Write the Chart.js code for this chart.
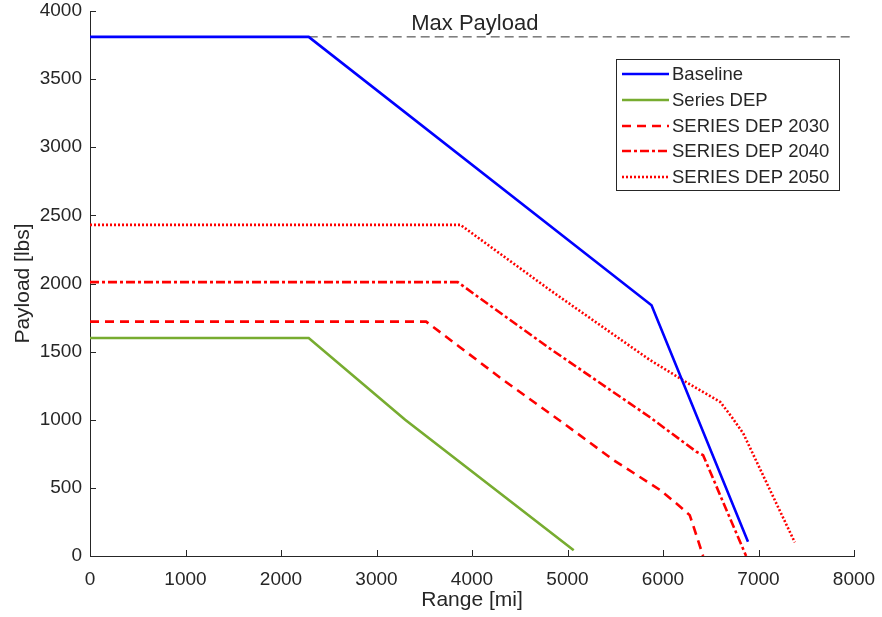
<!DOCTYPE html>
<html>
<head>
<meta charset="utf-8">
<script src="https://cdn.jsdelivr.net/npm/chart.js@4.4.0/dist/chart.umd.min.js"></script>
<style>
  html, body { margin: 0; padding: 0; background: #fff; }
  #wrap { width: 882px; height: 617px; }
</style>
</head>
<body>
<div id="wrap"><canvas id="c" width="882" height="617"></canvas></div>
<script>
// payload-range data
const seriesNames = ['Baseline', 'Series DEP', 'SERIES DEP 2030', 'SERIES DEP 2040', 'SERIES DEP 2050'];

const baselineX = [0, 2290, 5880, 6890];
const baselineY = [3810, 3810, 1840, 105];

const seriesDepX = [0, 2290, 3300, 5065];
const seriesDepY = [1600, 1600, 1000, 42];

const dep2030X = [0, 3520, 3860, 4330, 4990, 5480, 5970, 6180, 6280, 6320, 6420];
const dep2030Y = [1720, 1720, 1540, 1290, 958, 705, 484, 362, 300, 215, 0];

const dep2040X = [0, 3850, 4800, 5860, 6350, 6420, 6870];
const dep2040Y = [2010, 2010, 1530, 1020, 765, 740, 0];

const dep2050X = [0, 3880, 4820, 5860, 6210, 6600, 6720, 6840, 7380];
const dep2050Y = [2430, 2430, 1950, 1440, 1290, 1130, 1020, 900, 100];

const maxPayloadX = [2290, 8000];
const maxPayloadY = [3810, 3810];

const xTicks = [0, 1000, 2000, 3000, 4000, 5000, 6000, 7000, 8000];
const yTicks = [0, 500, 1000, 1500, 2000, 2500, 3000, 3500, 4000];

const textColor = '#262626';
const fontFamily = '"Liberation Sans", Arial, Helvetica, sans-serif';

function pts(xs, ys) {
  return xs.map((x, i) => ({ x: x, y: ys[i] }));
}

const lineStyles = [
  { color: '#0000ff', dash: [] },
  { color: '#77ac30', dash: [] },
  { color: '#ff0000', dash: [9, 6] },
  { color: '#ff0000', dash: [9, 3, 3, 3] },
  { color: '#ff0000', dash: [2, 2] },
];

const seriesData = [
  pts(baselineX, baselineY),
  pts(seriesDepX, seriesDepY),
  pts(dep2030X, dep2030Y),
  pts(dep2040X, dep2040Y),
  pts(dep2050X, dep2050Y),
];

const datasets = seriesData.map((d, i) => ({
  label: seriesNames[i],
  data: d,
  borderColor: lineStyles[i].color,
  borderDash: lineStyles[i].dash,
  borderWidth: 2.6,
  pointRadius: 0,
  tension: 0,
  fill: false,
}));

datasets.push({
  label: 'Max Payload',
  data: pts(maxPayloadX, maxPayloadY),
  borderColor: '#333333',
  borderDash: [9, 5],
  borderWidth: 1,
  pointRadius: 0,
  fill: false,
  inLegend: false,
});

// inward tick marks, annotation and boxed legend
const extras = {
  id: 'extras',
  afterDraw(chart) {
    const ctx = chart.ctx;
    const xs = chart.scales.x, ys = chart.scales.y;
    const area = chart.chartArea;
    ctx.save();
    ctx.strokeStyle = textColor;
    ctx.lineWidth = 1;
    ctx.beginPath();
    xTicks.forEach(v => {
      const px = Math.round(xs.getPixelForValue(v)) + 0.5;
      ctx.moveTo(px, area.bottom);
      ctx.lineTo(px, area.bottom - 6);
    });
    yTicks.forEach(v => {
      const py = Math.round(ys.getPixelForValue(v)) + 0.5;
      ctx.moveTo(area.left, py);
      ctx.lineTo(area.left + 6, py);
    });
    ctx.stroke();

    // annotation
    ctx.fillStyle = textColor;
    ctx.font = '22px ' + fontFamily;
    ctx.textAlign = 'center';
    ctx.textBaseline = 'middle';
    ctx.fillText('Max Payload', xs.getPixelForValue(4030), ys.getPixelForValue(3905));

    // legend
    const bx = 616.5, by = 59.5, bw = 223, bh = 131;
    ctx.fillStyle = '#ffffff';
    ctx.fillRect(bx, by, bw, bh);
    ctx.strokeStyle = '#262626';
    ctx.lineWidth = 1;
    ctx.strokeRect(bx, by, bw, bh);
    ctx.font = '18.5px ' + fontFamily;
    ctx.textAlign = 'left';
    ctx.textBaseline = 'middle';
    const rowY = [74, 100, 126, 151, 177];
    chart.data.datasets.forEach((ds, i) => {
      if (ds.inLegend === false) return;
      const y = rowY[i];
      ctx.strokeStyle = ds.borderColor;
      ctx.lineWidth = ds.borderWidth;
      ctx.setLineDash(ds.borderDash);
      ctx.beginPath();
      ctx.moveTo(622, y);
      ctx.lineTo(669, y);
      ctx.stroke();
      ctx.setLineDash([]);
      ctx.fillStyle = textColor;
      ctx.fillText(ds.label, 672, y + 1);
    });
    ctx.restore();
  }
};

new Chart(document.getElementById('c'), {
  type: 'line',
  data: { datasets: datasets },
  options: {
    responsive: false,
    animation: false,
    devicePixelRatio: 1,
    layout: { padding: { top: 11, right: 28, left: 0, bottom: 0 } },
    plugins: {
      legend: { display: false },
      tooltip: { enabled: false },
    },
    scales: {
      x: {
        type: 'linear',
        min: 0,
        max: 8000,
        afterFit(scale) {
          scale.height = 61;
          scale.paddingLeft = 0;
          scale.paddingRight = 0;
        },
        afterBuildTicks(scale) { scale.ticks = xTicks.map(v => ({ value: v })); },
        grid: { display: false, drawTicks: false },
        border: { display: true, color: textColor, width: 1 },
        ticks: {
          color: textColor,
          padding: 12,
          maxRotation: 0,
          callback: v => String(v),
          font: { family: fontFamily, size: 19 },
        },
        title: {
          display: true,
          text: 'Range [mi]',
          color: textColor,
          padding: { top: 0, bottom: 4 },
          font: { family: fontFamily, size: 21 },
        },
      },
      y: {
        type: 'linear',
        min: 0,
        max: 4000,
        afterFit(scale) {
          scale.width = 90;
          scale.paddingTop = 0;
          scale.paddingBottom = 0;
        },
        afterBuildTicks(scale) { scale.ticks = yTicks.map(v => ({ value: v })); },
        grid: { display: false, drawTicks: false },
        border: { display: true, color: textColor, width: 1 },
        ticks: {
          color: textColor,
          padding: 8,
          callback: v => String(v),
          font: { family: fontFamily, size: 19 },
        },
        title: {
          display: true,
          text: 'Payload [lbs]',
          color: textColor,
          padding: { top: 11, bottom: 0 },
          font: { family: fontFamily, size: 21 },
        },
      },
    },
  },
  plugins: [extras],
});
</script>
</body>
</html>
